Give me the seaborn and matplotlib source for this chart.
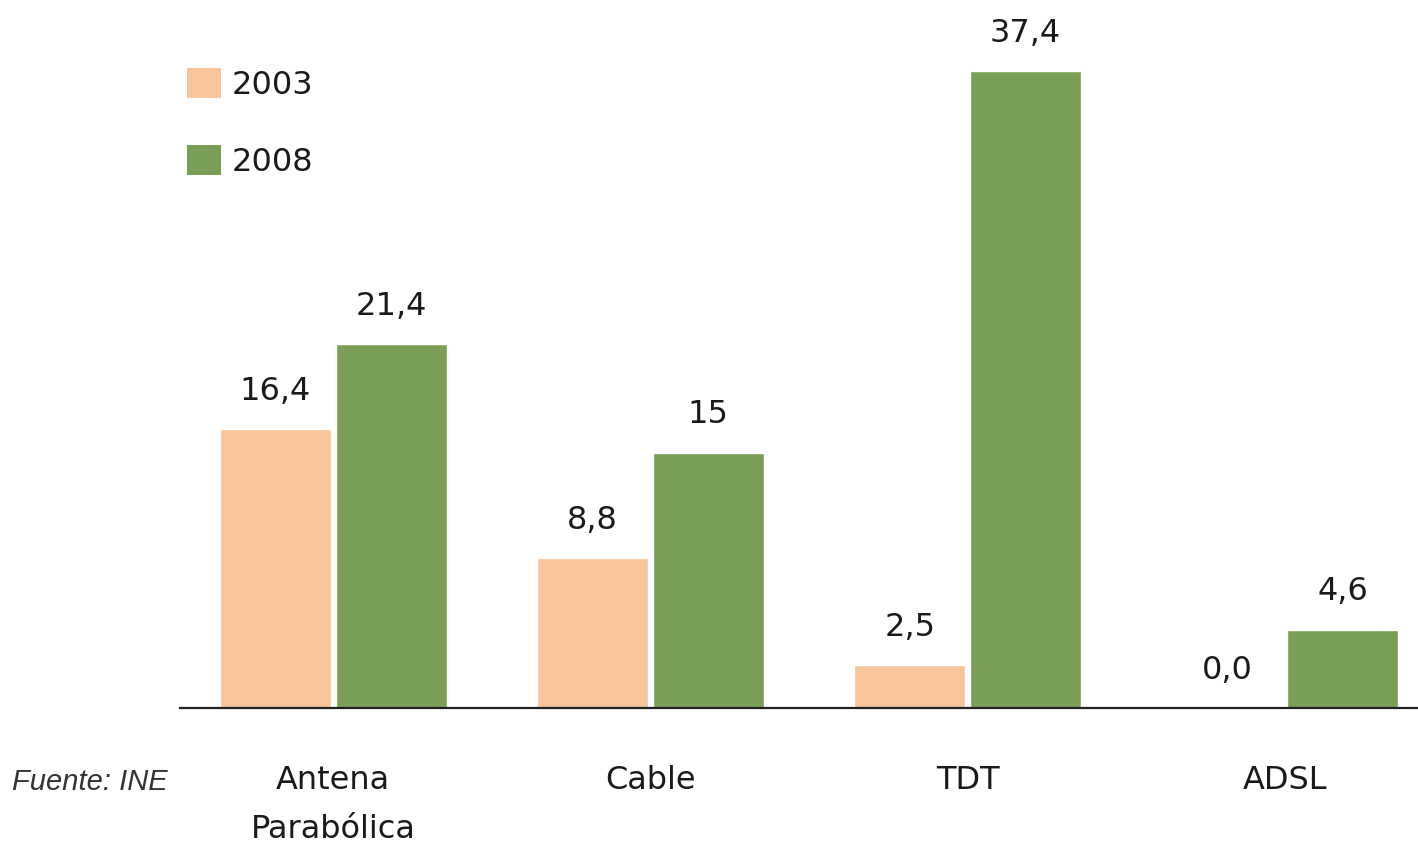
import matplotlib
matplotlib.use("Agg")
import matplotlib.pyplot as plt
import seaborn as sns
import pandas as pd
from matplotlib.patches import Patch

categories = ["Antena\nParabólica", "Cable", "TDT", "ADSL"]
years = ["2003", "2008"]
values_2003 = [16.4, 8.8, 2.5, 0.0]
values_2008 = [21.4, 15.0, 37.4, 4.6]
labels_2003 = ["16,4", "8,8", "2,5", "0,0"]
labels_2008 = ["21,4", "15", "37,4", "4,6"]
colors = ["#F8C49A", "#7A9E55"]

df = pd.DataFrame({
    "categoria": categories * 2,
    "año": [years[0]] * 4 + [years[1]] * 4,
    "valor": values_2003 + values_2008,
})

sns.set_theme(style="white")
plt.rcParams["font.family"] = ["DejaVu Sans"]

W, H = 1418, 849
fig = plt.figure(figsize=(W / 100, H / 100), dpi=100)
ax = fig.add_axes([180 / W, (H - 708) / H, 1 - 180 / W, 708 / H])

sns.barplot(data=df, x="categoria", y="valor", hue="año", palette=colors,
            width=0.73, gap=0.04, ax=ax, legend=False, saturation=1)

# value labels above each bar
for container, labels in zip(ax.containers, [labels_2003, labels_2008]):
    ax.bar_label(container, labels=labels, padding=16, fontsize=23, color="#1a1a1a")

ax.set_xlim(-0.483, 3.42)
ax.set_ylim(0, 41.6)
ax.set_xlabel("")
ax.set_ylabel("")
ax.set_yticks([])
for side in ["top", "right", "left"]:
    ax.spines[side].set_visible(False)
ax.spines["bottom"].set_color("#222222")
ax.spines["bottom"].set_linewidth(1.6)
ax.tick_params(axis="x", length=0, pad=41, labelsize=23, labelcolor="#1a1a1a")
for t in ax.get_xticklabels():
    t.set_linespacing(1.75)
    t.set_verticalalignment("top")

fig.text(12 / W, (H - 782) / H, "Fuente: INE", family="Liberation Sans",
         style="italic", fontsize=21, color="#333333", va="center", ha="left")

handles = [Patch(facecolor=c, edgecolor="none") for c in colors]
fig.legend(handles, years, loc="upper left", bbox_to_anchor=(187 / W, (H - 68) / H),
           frameon=False, fontsize=23, handlelength=1.05, handleheight=1.05,
           handletextpad=0.35, labelspacing=1.4, borderpad=0, borderaxespad=0,
           labelcolor="#1a1a1a")

fig.savefig("out.png", dpi=100)
